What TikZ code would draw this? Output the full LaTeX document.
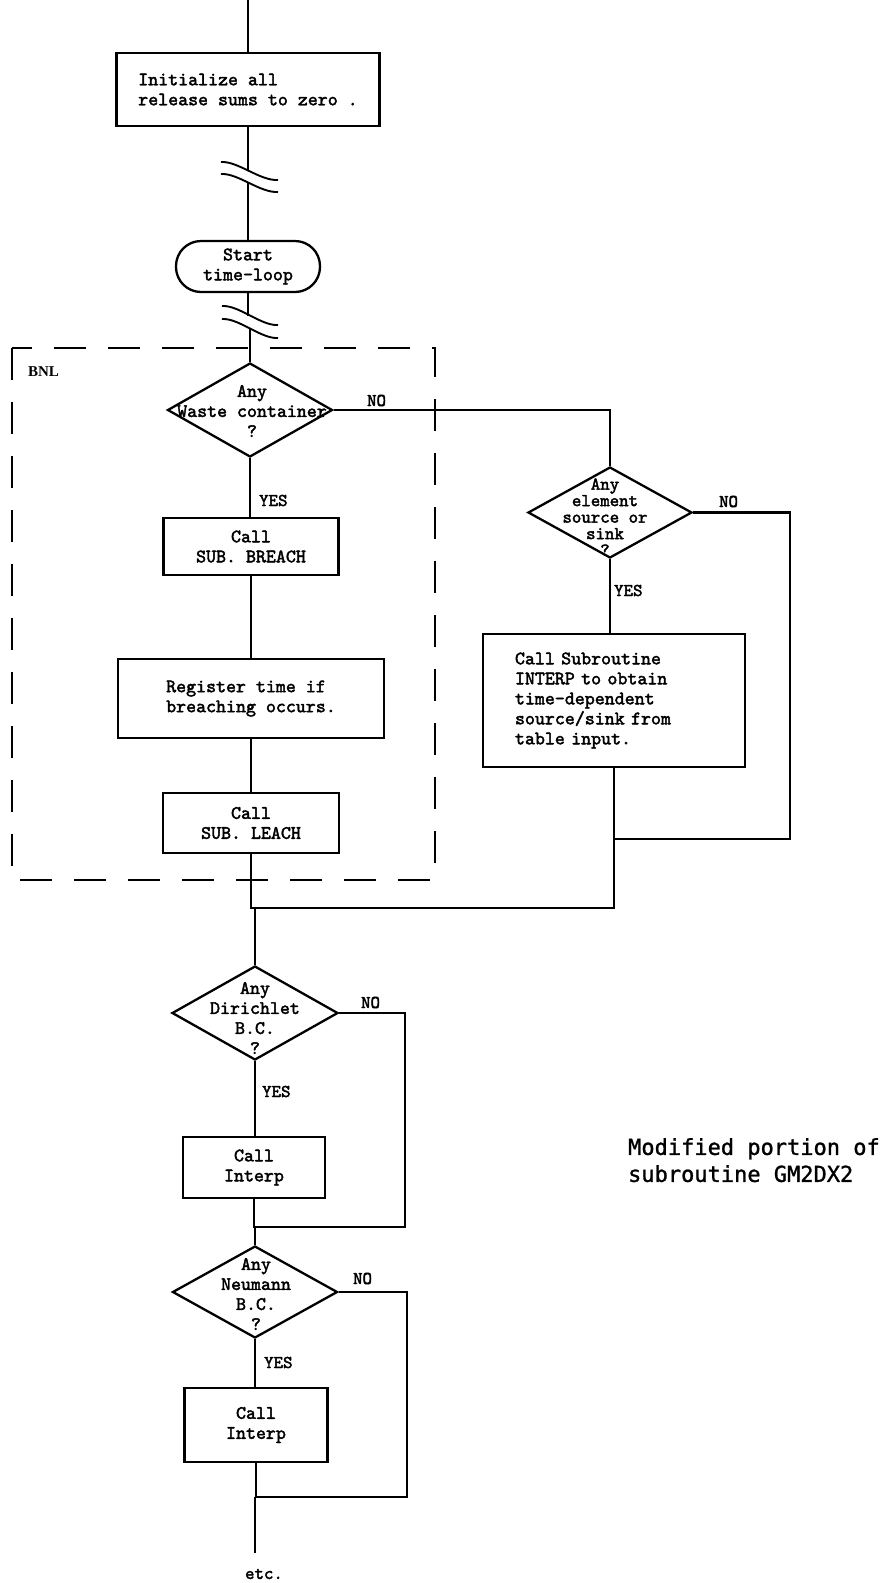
\documentclass[tikz,border=0pt]{standalone}
\usepackage{fontspec}
\usetikzlibrary{shapes.geometric}
% typewriter face for the flowchart text, slightly emboldened
\newfontfamily\tw{lmmono10-regular.otf}[FakeBold=2.2]
\newfontfamily\capfont{DejaVu Sans Mono}[FakeBold=1.2]
\newfontfamily\lblfont{Liberation Serif}

\begin{document}
\begin{tikzpicture}[x=1pt,y=-1pt,
  line width=2.3pt,
  txt/.style={font=\tw\fontsize{19}{20}\selectfont},
  box/.style={draw, rectangle, line width=2.3pt, inner sep=0pt, txt, align=center},
  term/.style={box, rounded corners=25pt},
  decision/.style={draw, diamond, line width=2.3pt, inner sep=0pt},
  dtext/.style={txt, align=center, inner sep=0pt},
  yn/.style={font=\tw\fontsize{18}{18}\selectfont, inner sep=0pt, anchor=base west},
  brk/.style={line width=1.9pt},
  region/.style={line width=2pt, dash pattern=on 32pt off 22pt},
]
\useasboundingbox (0,0) rectangle (885,1583);

% ---- upper column ----
\coordinate (top) at (248,0);
\node[box, align=left, minimum width=263pt, minimum height=73pt] (init) at (248,89.5)
  {Initialize all\\release sums to zero .};
\node[term, minimum width=144pt, minimum height=51pt] (start) at (248,266.5)
  {Start\\time-loop};

% BNL region
\draw[region] (12,348) rectangle (435,880);
\node[font=\lblfont\bfseries\fontsize{15}{15}\selectfont, inner sep=0pt, anchor=base west] (bnl) at (27,376) {BNL};

\node[decision, minimum width=165pt, minimum height=94pt] (d1) at (250,410) {};
\node[dtext] (d1t) at (252,411) {Any\\Waste container\\?};

\node[box, minimum width=175pt, minimum height=57pt] (breach) at (251,546.5)
  {Call\\SUB. BREACH};
\node[box, align=left, minimum width=266pt, minimum height=79pt] (register) at (251,698.5)
  {Register time if\\breaching occurs.};
\node[box, minimum width=176pt, minimum height=60pt] (leach) at (251,823)
  {Call\\SUB. LEACH};

% ---- right branch ----
\node[decision, minimum width=164pt, minimum height=91pt] (d2) at (610,512.5) {};
\node[dtext, font=\tw\fontsize{18}{16.5}\selectfont] (d2t) at (605,517)
  {Any\\element\\source or\\sink\\?};
\node[box, align=left, text width=198pt, inner xsep=32pt, minimum height=133pt] (src) at (614,700.5)
  {Call Subroutine\\INTERP to obtain\\time-dependent\\source/sink from\\table input.};

% ---- lower column ----
\coordinate (j1) at (255,908);
\node[decision, minimum width=166pt, minimum height=94pt] (d3) at (255,1013) {};
\node[dtext] (d3t) at (255,1018) {Any\\Dirichlet\\B.C.\\?};
\node[box, minimum width=142pt, minimum height=61pt] (ip1) at (254,1167.5) {Call\\Interp};
\coordinate (j2) at (255,1227);
\node[decision, minimum width=165pt, minimum height=92pt] (d4) at (255,1292) {};
\node[dtext] (d4t) at (256,1294) {Any\\Neumann\\B.C.\\?};
\node[box, minimum width=143pt, minimum height=74pt] (ip2) at (256,1425) {Call\\Interp};
\coordinate (j3) at (255,1497);
\coordinate (end) at (255,1553);
\node[font=\tw\fontsize{18}{18}\selectfont, inner sep=0pt] (etc) at (264,1574) {etc.};

% ---- caption ----
\node[font=\capfont\fontsize{22}{27}\selectfont, align=left, inner sep=0pt, anchor=north west] (cap)
  at (627,1137) {Modified portion of\\subroutine GM2DX2};

% ---- branch labels ----
\node[yn] (no1) at (366,406) {NO};
\node[yn] (yes1) at (258,506) {YES};
\node[yn] (no2) at (718,507) {NO};
\node[yn] (yes2) at (613,596) {YES};
\node[yn] (no3) at (360,1008) {NO};
\node[yn] (yes3) at (261,1097) {YES};
\node[yn] (no4) at (352,1284) {NO};
\node[yn] (yes4) at (263,1368) {YES};

% ---- connectors ----
\coordinate (b1a) at (248,171);
\coordinate (b1b) at (248,183);
\coordinate (b2a) at (249,316);
\coordinate (b2b) at (249,329);
\draw (top) -- (init.north);
\draw (init.south) -- (b1a);
\draw (b1b) -- (start.north);
\draw (start.south) -- (start.south |- b2a);
\draw (b2b -| d1.north) -- (d1.north);
% line breaks
\draw[brk] (221,162) .. controls (238,161) and (260,181) .. (278,180);
\draw[brk] (221,174) .. controls (238,173) and (260,193) .. (278,192);
\draw[brk] (222,306) .. controls (239,305) and (261,326) .. (278,325);
\draw[brk] (222,319) .. controls (239,318) and (261,339) .. (278,338);

\draw (d1.south) -- (d1.south |- breach.north);
\draw (breach.south) -- (breach.south |- register.north);
\draw (register.south) -- (register.south |- leach.north);
\draw (leach.south) -- (leach.south |- j1) -- (j1);

\coordinate (c3) at (790,839);
\draw (d1.east) -| (d2.north);
\draw (d2.south) -- (d2.south |- src.north);
\draw (d2.east) -| (c3) -- (c3 -| src.south);
\draw (src.south) -- (src.south |- j1) -- (j1);

\draw (j1) -- (d3.north);
\draw (d3.south) -- (d3.south |- ip1.north);
\coordinate (c4) at (405,1227);
\draw (d3.east) -| (c4) -- (j2);
\draw (ip1.south) -- (ip1.south |- j2) -- (j2);
\draw (j2) -- (d4.north);
\draw (d4.south) -- (d4.south |- ip2.north);
\coordinate (c5) at (407,1497);
\draw (d4.east) -| (c5) -- (j3);
\draw (ip2.south) -- (ip2.south |- j3) -- (j3);
\draw (j3) -- (end);
\end{tikzpicture}
\end{document}
